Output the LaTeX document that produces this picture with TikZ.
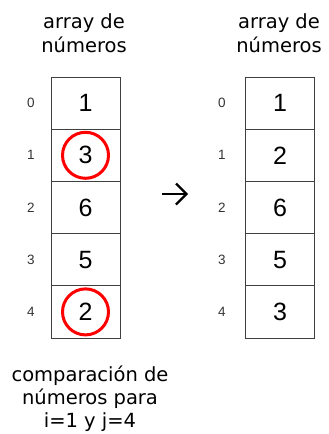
\documentclass[tikz,border=0pt]{standalone}
\usepackage{fontspec}
\setmainfont{DejaVu Sans}
\newfontfamily\numfont{Liberation Sans}
\begin{document}
\begin{tikzpicture}[x=1pt,y=-1pt,
  cellbox/.style={draw=black!75, line width=1pt, minimum width=69pt, minimum height=52.2pt, inner sep=0pt, font=\numfont\fontsize{25}{25}\selectfont},
  idxlabel/.style={inner sep=0pt, text=black!80, font=\numfont\fontsize{13.5}{13.5}\selectfont},
  titletext/.style={inner sep=0pt, anchor=base, font=\fontsize{19.5}{23.5}\selectfont},
  hilite/.style={draw=red, line width=3pt, circle, minimum size=46pt, inner sep=0pt}]
\useasboundingbox (0,0) rectangle (329,434);
% titles
\node[titletext] (tl1) at (84,28) {array de};
\node[titletext] (tl2) at (84,52) {números};
\node[titletext] (tr1) at (279,28) {array de};
\node[titletext] (tr2) at (279,52) {números};
% left array
\foreach \v [count=\i from 0] in {1,3,6,5,2} {
  \node[cellbox] (l\i) at (85.5,{103.1+52.2*\i}) {\v};
  \node[idxlabel] (li\i) at (31,{103.1+52.2*\i}) {\i};
}
% right array
\foreach \v [count=\i from 0] in {1,2,6,5,3} {
  \node[cellbox] (r\i) at (280,{103.1+52.2*\i}) {\v};
  \node[idxlabel] (ri\i) at (222,{103.1+52.2*\i}) {\i};
}
% highlight circles
\node[hilite] (c1) at (l1) {};
\node[hilite] (c4) at (l4) {};
% arrow glyph
\coordinate (as) at (162,194);
\coordinate (ae) at (186.5,194);
\coordinate (au) at (176,183.5);
\coordinate (ad) at (176,204.5);
\draw[line width=2.6pt] (as) -- (ae);
\draw[line width=2.4pt, line cap=butt, line join=miter] (au) -- (ae) -- (ad);
% caption
\node[titletext] (cap1) at (90,381.5) {comparación de};
\node[titletext] (cap2) at (90,404.5) {números para};
\node[titletext] (cap3) at (90,427) {i=1 y j=4};
\end{tikzpicture}
\end{document}
